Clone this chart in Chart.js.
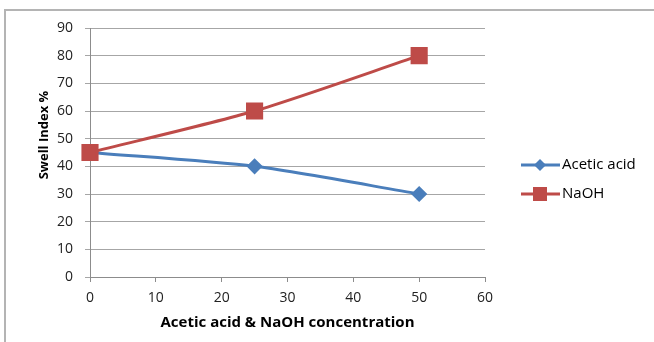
<!DOCTYPE html>
<html>
<head>
<meta charset="utf-8">
<script src="https://cdn.jsdelivr.net/npm/chart.js@4"></script>
<style>
  html, body { margin: 0; padding: 0; background: #fff; }
  #wrap { width: 654px; height: 342px; position: relative; }
</style>
</head>
<body>
<div id="wrap"><canvas id="swellChart" width="654" height="342"></canvas></div>
<script>
// Concentration (x) and swell index values
const concentration = [0, 25, 50];
const aceticAcid = [45, 40, 30];
const naoh = [45, 60, 80];
const seriesNames = ['Acetic acid', 'NaOH'];
const yTitle = 'Swell Index %';
const xTitle = 'Acetic acid & NaOH concentration';

const BLUE = '#4a7ebb';
const RED = '#be4b48';
const FONT = "'Open Sans', 'Liberation Sans', sans-serif";

const toPoints = ys => concentration.map((x, i) => ({ x, y: ys[i] }));

// frame border, y title and legend drawn on canvas
const framePlugin = {
  id: 'frame',
  beforeDraw(chart) {
    const ctx = chart.ctx;
    ctx.save();
    ctx.strokeStyle = '#b4b4b4';
    ctx.lineWidth = 2;
    ctx.beginPath();
    ctx.moveTo(5, 345);
    ctx.lineTo(5, 10);
    ctx.lineTo(660, 10);
    ctx.stroke();
    ctx.restore();
  },
  afterDraw(chart) {
    const ctx = chart.ctx;
    ctx.save();
    // y axis title (sits a bit above the middle, as in the original)
    ctx.translate(44, 135);
    ctx.rotate(-Math.PI / 2);
    ctx.fillStyle = '#000';
    ctx.font = 'bold 13px ' + FONT;
    ctx.textAlign = 'center';
    ctx.textBaseline = 'middle';
    ctx.fillText(yTitle, 0, 0);
    ctx.restore();

    ctx.save();
    chart.data.datasets.forEach((ds, i) => {
      const y = 165 + i * 29;
      ctx.strokeStyle = ds.borderColor;
      ctx.lineWidth = 3;
      ctx.beginPath();
      ctx.moveTo(521, y);
      ctx.lineTo(560, y);
      ctx.stroke();
      ctx.fillStyle = ds.pointBackgroundColor;
      ctx.beginPath();
      if (ds.pointStyle === 'rect') {
        ctx.rect(533, y - 7, 14, 14);
      } else {
        ctx.moveTo(540, y - 6); ctx.lineTo(546, y); ctx.lineTo(540, y + 6); ctx.lineTo(534, y);
        ctx.closePath();
      }
      ctx.fill();
      ctx.fillStyle = '#000';
      ctx.font = '15px ' + FONT;
      ctx.textBaseline = 'middle';
      ctx.fillText(ds.label, 562, y);
    });
    ctx.restore();
  }
};

new Chart(document.getElementById('swellChart'), {
  type: 'line',
  data: {
    datasets: [
      {
        label: seriesNames[0],
        data: toPoints(aceticAcid),
        borderColor: BLUE,
        backgroundColor: BLUE,
        pointBackgroundColor: BLUE,
        pointBorderColor: BLUE,
        pointStyle: 'rectRot',
        pointRadius: 6,
        borderWidth: 3,
        tension: 0.25,
        clip: false,
        order: 1
      },
      {
        label: seriesNames[1],
        data: toPoints(naoh),
        borderColor: RED,
        backgroundColor: RED,
        pointBackgroundColor: RED,
        pointBorderColor: RED,
        pointStyle: 'rect',
        pointRadius: 10,
        borderWidth: 3,
        tension: 0.25,
        clip: false,
        order: 0
      }
    ]
  },
  options: {
    responsive: false,
    animation: false,
    layout: { padding: { top: 28, left: 0, right: 169, bottom: 0 } },
    plugins: { legend: { display: false }, tooltip: { enabled: false } },
    scales: {
      x: {
        type: 'linear',
        min: 0, max: 60,
        afterFit: s => { s.height = 65; },
        ticks: { stepSize: 10, color: '#222', padding: 8, font: { family: FONT, size: 14 } },
        grid: { drawOnChartArea: false, drawTicks: true, tickLength: 5, color: '#8c8c8c' },
        border: { color: '#8c8c8c' },
        title: {
          display: true,
          text: xTitle,
          color: '#000',
          font: { family: FONT, size: 15, weight: 'bold' },
          padding: { top: 0, bottom: 10 }
        }
      },
      y: {
        min: 0, max: 90,
        afterFit: s => { s.width = 90; },
        ticks: { stepSize: 10, color: '#222', padding: 12, font: { family: FONT, size: 14 } },
        grid: { color: '#a6a6a6', tickLength: 5 },
        border: { color: '#8c8c8c' }
      }
    }
  },
  plugins: [framePlugin]
});
</script>
</body>
</html>
